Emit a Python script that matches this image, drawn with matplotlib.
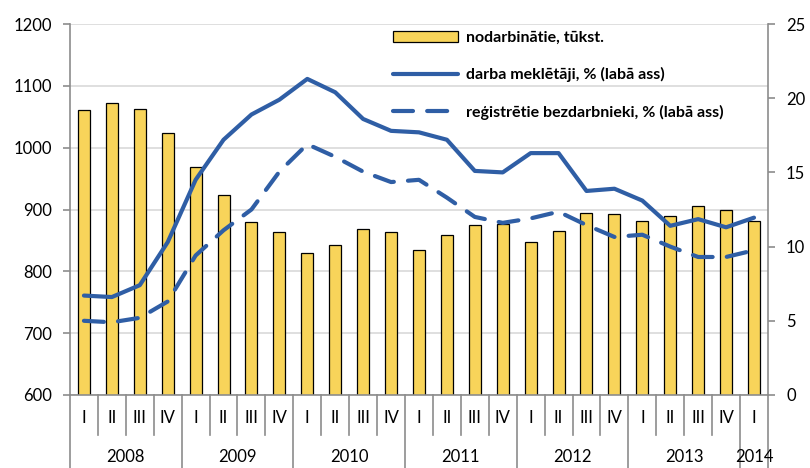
import numpy as np
import matplotlib.pyplot as plt
from matplotlib.patches import Patch
from matplotlib.lines import Line2D

plt.rcParams['font.family'] = ['Lato', 'DejaVu Sans']

# data
years = ['2008', '2009', '2010', '2011', '2012', '2013', '2014']
quarters = ['I', 'II', 'III', 'IV'] * 6 + ['I']
employed = [1061, 1073, 1062, 1024, 968, 923, 880, 863,
            830, 842, 868, 863, 835, 858, 875, 876,
            848, 866, 895, 892, 881, 889, 906, 900, 882]
jobseekers = [6.7, 6.6, 7.4, 10.3, 14.5, 17.2, 18.9, 19.9,
              21.3, 20.4, 18.6, 17.8, 17.7, 17.2, 15.1, 15.0,
              16.3, 16.3, 13.75, 13.9, 13.1, 11.4, 11.85, 11.3, 11.95]
registered = [5.0, 4.9, 5.2, 6.3, 9.4, 11.1, 12.5, 15.05,
              16.9, 16.05, 15.05, 14.35, 14.5, 13.3, 12.0, 11.6,
              11.9, 12.35, 11.45, 10.65, 10.8, 10.0, 9.3, 9.3, 9.75]

bar_color = '#F8D45A'
line_color = '#2F5EA5'
axis_color = '#8C8C8C'
grid_color = '#D9D9D9'

fig = plt.figure(figsize=(8.1, 4.68), dpi=100)
ax = fig.add_axes([0.0864, 0.156, 0.8617, 0.7927])
ax2 = ax.twinx()

x = np.arange(len(employed))
ax.bar(x, employed, width=0.43, color=bar_color, edgecolor='black', linewidth=0.9, zorder=2)
ax.set_ylim(600, 1200)
ax.set_yticks(range(600, 1201, 100))
ax.set_xlim(-0.5, len(employed) - 0.5)
ax.yaxis.grid(True, color=grid_color, linewidth=1.2, zorder=0)
ax.set_axisbelow(True)

ax2.plot(x, jobseekers, color=line_color, lw=3, solid_capstyle='round', solid_joinstyle='round')
ax2.plot(x, registered, color=line_color, lw=3, dashes=(4.8, 3.4), dash_capstyle='round')
ax2.set_ylim(0, 25)
ax2.set_yticks(range(0, 26, 5))

for a in (ax, ax2):
    a.spines['top'].set_visible(False)
    for s in a.spines.values():
        s.set_color(axis_color)
        s.set_linewidth(1.2)
    a.tick_params(axis='y', length=5, width=1.2, color=axis_color, labelsize=12, pad=8)
ax.spines['right'].set_visible(False)
ax2.spines['left'].set_visible(False)
ax2.spines['bottom'].set_visible(False)
ax.tick_params(axis='x', length=0, labelbottom=False)

# two-level category axis
trans = ax.get_xaxis_transform()
for i, q in enumerate(quarters):
    ax.text(i, -0.062, q, transform=trans, ha='center', va='center', fontsize=12)
for i in range(len(quarters) + 1):
    yr_edge = i % 4 == 0 or i == len(quarters)
    y_end = -0.2 if yr_edge else -0.108
    ax.plot([i - 0.5, i - 0.5], [0, y_end], transform=trans, color=axis_color,
            lw=1.2, clip_on=False)
for k, yr in enumerate(years):
    start = 4 * k
    end = min(start + 4, len(quarters))
    ax.text((start + end - 1) / 2, -0.167, yr, transform=trans, ha='center',
            va='center', fontsize=12)

# legend
handles = [Patch(facecolor=bar_color, edgecolor='black', linewidth=0.9),
           Line2D([], [], color=line_color, lw=3, solid_capstyle='round'),
           Line2D([], [], color=line_color, lw=3, dashes=(4.8, 3.4), dash_capstyle='round')]
labels = ['nodarbinātie, tūkst.', 'darba meklētāji, % (labā ass)',
          'reģistrētie bezdarbnieki, % (labā ass)']
leg = ax2.legend(handles, labels, loc='upper left', bbox_to_anchor=(0.458, 0.99),
                 frameon=False, prop={'weight': 'bold', 'size': 11.5},
                 handlelength=4.1, handleheight=0.65, handletextpad=0.45,
                 labelspacing=1.4, borderaxespad=0, borderpad=0.2)

fig.savefig('out.png', dpi=100)
